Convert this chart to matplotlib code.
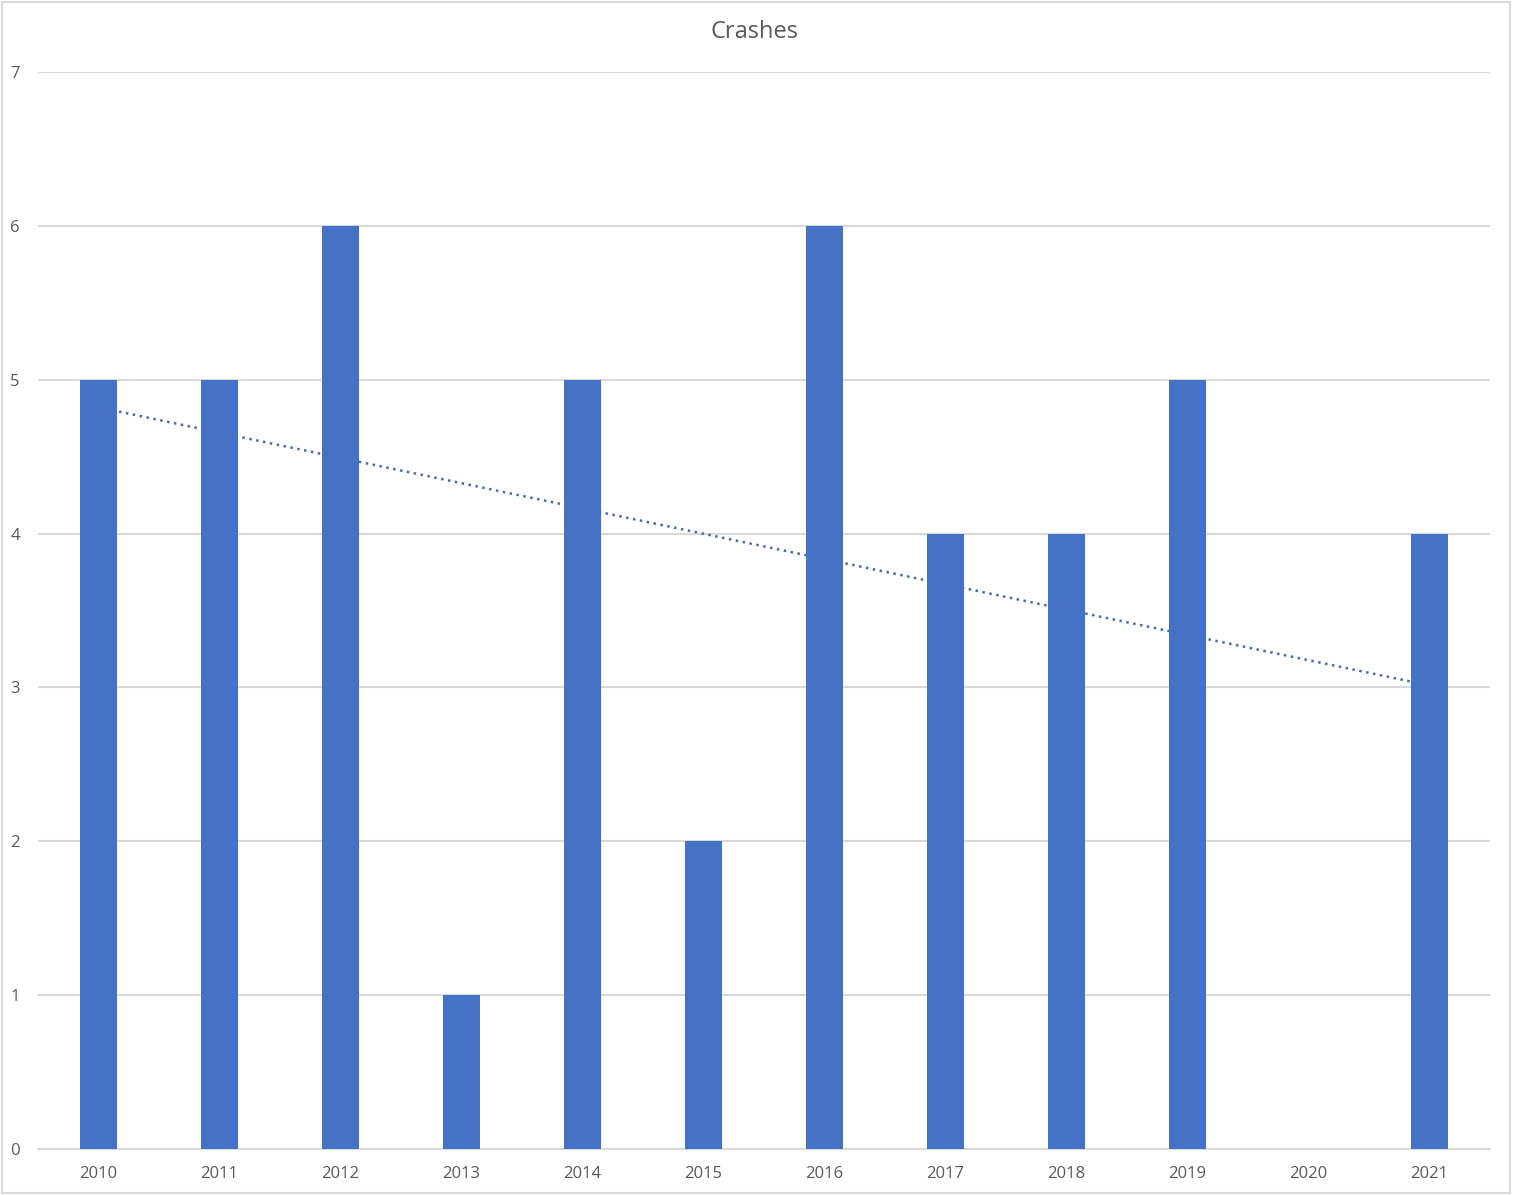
import matplotlib
matplotlib.use("Agg")
import matplotlib.pyplot as plt
import numpy as np
from matplotlib.patches import Rectangle

years = ["2010", "2011", "2012", "2013", "2014", "2015", "2016", "2017", "2018", "2019", "2020", "2021"]
crashes = [5, 5, 6, 1, 5, 2, 6, 4, 4, 5, 0, 4]
yticks = [0, 1, 2, 3, 4, 5, 6, 7]

plt.rcParams['font.family'] = ['Open Sans', 'DejaVu Sans']

W, H = 1513, 1195
fig = plt.figure(figsize=(W / 100, H / 100), dpi=100)
fig.patch.set_facecolor("white")
ax = fig.add_axes([38 / W, 1 - 1149 / H, (1490 - 38) / W, (1149 - 72) / H])

x = np.arange(len(years))
# linear trendline (behind bars)
coef = np.polyfit(x, crashes, 1)
tx = np.array([x[0], x[-1]])
ax.plot(tx, np.polyval(coef, tx), linestyle=(0, (1, 1.8)), color="#4a6c9f", lw=1.8, zorder=2)
ax.bar(x, crashes, width=0.31, color="#4472c4", zorder=3)

ax.set_xlim(-0.5, len(years) - 0.5)
ax.set_ylim(0, 7)
ax.set_yticks(yticks)
ax.set_xticks(x)
ax.set_xticklabels(years)
ax.yaxis.grid(True, color="#d9d9d9", lw=1.5, zorder=0)
ax.set_axisbelow(True)
for s in ["top", "right", "left"]:
    ax.spines[s].set_visible(False)
ax.spines["bottom"].set_color("#d9d9d9")
ax.spines["bottom"].set_linewidth(1.5)
ax.tick_params(axis="both", length=0, colors="#595959", labelsize=12)
ax.tick_params(axis="x", pad=12)
for lab in ax.get_yticklabels():
    lab.set_horizontalalignment("left")
ax.yaxis.set_tick_params(pad=20)

fig.text(755 / W, 1 - 32 / H, "Crashes", ha="center", va="center", fontsize=17, color="#595959")

# outer border
fig.patches.append(Rectangle((2 / W, 2 / H), (1510 - 2) / W, (H - 4) / H, transform=fig.transFigure,
                             fill=False, edgecolor="#d9d9d9", lw=1.5))

fig.savefig("out.png", dpi=100, facecolor="white")
